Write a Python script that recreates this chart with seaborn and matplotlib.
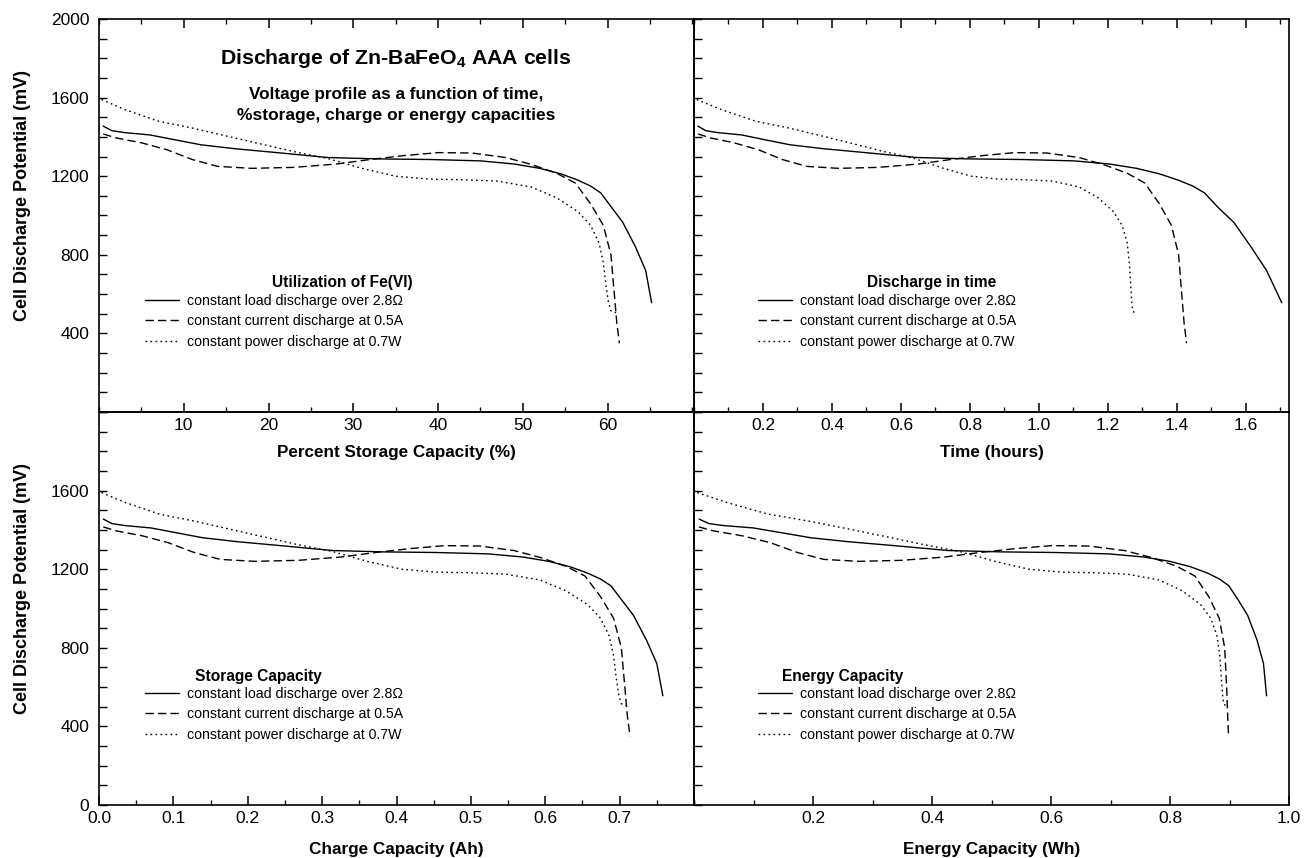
import matplotlib
matplotlib.use("Agg")
import matplotlib.pyplot as plt
import seaborn as sns
import pandas as pd
from matplotlib.ticker import MultipleLocator, FormatStrFormatter

# ---------------- data ----------------
series_names = ["constant load discharge over 2.8\u03a9",
                "constant current discharge at 0.5A",
                "constant power discharge at 0.7W"]

# cell potential (mV) along each discharge curve
load_mv = [1455, 1432, 1422, 1410, 1385, 1360, 1340, 1320, 1295, 1288, 1285, 1278,
           1262, 1240, 1212, 1180, 1150, 1115, 1040, 965, 840, 720, 556]
current_mv = [1415, 1395, 1370, 1335, 1285, 1250, 1240, 1245, 1262, 1285, 1305, 1320,
              1318, 1295, 1260, 1215, 1165, 1060, 950, 800, 600, 450, 350]
power_mv = [1590, 1540, 1480, 1445, 1405, 1365, 1325, 1290, 1240, 1200, 1185, 1182,
            1175, 1145, 1090, 1020, 950, 860, 760, 650, 560, 515, 505]

# percent storage capacity (%)
load_pct = [0.5, 1.5, 3, 6, 9, 12, 16, 21, 27, 33, 39, 45, 49, 52, 54.5, 56.5, 58,
            59.2, 60.5, 61.8, 63.3, 64.5, 65.2]
current_pct = [0.5, 2, 5, 8, 11, 14, 18, 23, 28, 32, 36, 40, 44, 48, 51, 54, 56.2, 58,
               59.5, 60.4, 60.8, 61.1, 61.4]
power_pct = [0.3, 3, 7, 11, 15, 19, 23, 27, 31, 35, 39, 43, 47, 51, 54, 56.5, 58, 59,
             59.5, 59.8, 60.1, 60.4, 61.0]

# time (hours)
load_hours = [0.011, 0.034, 0.068, 0.138, 0.207, 0.278, 0.375, 0.497, 0.647, 0.798,
              0.949, 1.102, 1.205, 1.283, 1.349, 1.404, 1.446, 1.48, 1.52, 1.565,
              1.615, 1.66, 1.704]
current_hours = [0.012, 0.047, 0.116, 0.186, 0.256, 0.326, 0.419, 0.535, 0.651, 0.744,
                 0.837, 0.930, 1.023, 1.116, 1.186, 1.256, 1.307, 1.349, 1.384, 1.405,
                 1.414, 1.421, 1.428]
power_hours = [0.008, 0.078, 0.178, 0.276, 0.370, 0.462, 0.552, 0.639, 0.723, 0.804,
               0.883, 0.962, 1.040, 1.117, 1.172, 1.216, 1.241, 1.256, 1.262, 1.266,
               1.269, 1.272, 1.277]

# charge capacity (Ah)
load_ah = [0.0058, 0.0174, 0.0349, 0.0698, 0.1047, 0.1395, 0.186, 0.2442, 0.314,
           0.3837, 0.4535, 0.5233, 0.5698, 0.6047, 0.6337, 0.657, 0.6744, 0.6884,
           0.7035, 0.7186, 0.736, 0.75, 0.7581]
current_ah = [0.0058, 0.0233, 0.0581, 0.093, 0.1279, 0.1628, 0.2093, 0.2674, 0.3256,
              0.3721, 0.4186, 0.4651, 0.5116, 0.5581, 0.593, 0.6279, 0.6535, 0.6744,
              0.6919, 0.7023, 0.707, 0.7105, 0.714]
power_ah = [0.0035, 0.0349, 0.0814, 0.1279, 0.1744, 0.2209, 0.2674, 0.314, 0.3605,
            0.407, 0.4535, 0.5, 0.5465, 0.593, 0.6279, 0.657, 0.6744, 0.686, 0.6919,
            0.6953, 0.6988, 0.7023, 0.7093]

# energy capacity (Wh)
load_wh = [0.0085, 0.0253, 0.0501, 0.0996, 0.1483, 0.1963, 0.259, 0.3363, 0.4276,
           0.5177, 0.6075, 0.6969, 0.756, 0.7996, 0.8351, 0.8631, 0.8833, 0.8991,
           0.9153, 0.9305, 0.9462, 0.9571, 0.9623]
current_wh = [0.0082, 0.0328, 0.0809, 0.1281, 0.1738, 0.218, 0.2759, 0.3481, 0.4211,
              0.4803, 0.5405, 0.6015, 0.6628, 0.7236, 0.7682, 0.8114, 0.8419, 0.8652,
              0.8828, 0.8919, 0.8952, 0.897, 0.8984]
power_wh = [0.0055, 0.0546, 0.1249, 0.1929, 0.2591, 0.3236, 0.3863, 0.447, 0.5058,
            0.5625, 0.618, 0.6731, 0.7278, 0.7818, 0.8207, 0.8515, 0.8686, 0.879,
            0.8837, 0.8862, 0.8883, 0.8901, 0.8937]

pct_ticks = [10, 20, 30, 40, 50, 60]
hour_ticks = [0.2, 0.4, 0.6, 0.8, 1.0, 1.2, 1.4, 1.6]
ah_ticks = [0.0, 0.1, 0.2, 0.3, 0.4, 0.5, 0.6, 0.7]
wh_ticks = [0.2, 0.4, 0.6, 0.8, 1.0]
mv_ticks_top = [400, 800, 1200, 1600, 2000]
mv_ticks_bottom = [0, 400, 800, 1200, 1600]

# ---------------- style ----------------
sns.set_theme(style="ticks")
plt.rcParams["font.family"] = ["Liberation Sans", "DejaVu Sans"]
plt.rcParams["mathtext.fontset"] = "custom"
plt.rcParams["mathtext.rm"] = "Liberation Sans"
plt.rcParams["mathtext.bf"] = "Liberation Sans:bold"
plt.rcParams["axes.linewidth"] = 1.2
for key in ("text.color", "axes.labelcolor", "xtick.color", "ytick.color",
            "axes.edgecolor"):
    plt.rcParams[key] = "black"

W, H = 1311, 858
fig = plt.figure(figsize=(W / 100, H / 100), dpi=100)

xl, xm, xr = 99, 694, 1289
yt, ym, yb = 19, 412, 805


def rect(x0, x1, y0, y1):
    return [x0 / W, 1 - y1 / H, (x1 - x0) / W, (y1 - y0) / H]


dash_map = {series_names[0]: "", series_names[1]: (6, 3), series_names[2]: (1.2, 2.4)}

panels = [
    dict(pos=rect(xl, xm, yt, ym), xs=(load_pct, current_pct, power_pct),
         xlim=(0, 70.2), xticks=pct_ticks, xminor=5, fmt="%d",
         xlabel="Percent Storage Capacity (%)", yticks=mv_ticks_top, left=True, top=True,
         title="Utilization of Fe(VI)"),
    dict(pos=rect(xm, xr, yt, ym), xs=(load_hours, current_hours, power_hours),
         xlim=(0, 1.725), xticks=hour_ticks, xminor=0.1, fmt="%.1f",
         xlabel="Time (hours)", yticks=mv_ticks_top, left=False, top=True,
         title="Discharge in time"),
    dict(pos=rect(xl, xm, ym, yb), xs=(load_ah, current_ah, power_ah),
         xlim=(0, 0.8), xticks=ah_ticks, xminor=0.05, fmt="%.1f",
         xlabel="Charge Capacity (Ah)", yticks=mv_ticks_bottom, left=True, top=False,
         title="Storage Capacity"),
    dict(pos=rect(xm, xr, ym, yb), xs=(load_wh, current_wh, power_wh),
         xlim=(0, 1.0), xticks=wh_ticks, xminor=0.1, fmt="%.1f",
         xlabel="Energy Capacity (Wh)", yticks=mv_ticks_bottom, left=False, top=False,
         title="Energy Capacity"),
]

mv_lists = (load_mv, current_mv, power_mv)

for i, p in enumerate(panels):
    ax = fig.add_axes(p["pos"])
    rows = []
    for name, xs, ys in zip(series_names, p["xs"], mv_lists):
        for k, (xv, yv) in enumerate(zip(xs, ys)):
            rows.append(dict(x=xv, mv=yv, series=name, k=k))
    df = pd.DataFrame(rows)
    sns.lineplot(data=df, x="x", y="mv", style="series", style_order=series_names,
                 dashes=dash_map, color="black", linewidth=1.0, sort=False,
                 estimator=None, legend=False, ax=ax)
    ax.set_xlim(*p["xlim"])
    ax.set_ylim(0, 2000)
    ax.set_xticks(p["xticks"])
    ax.xaxis.set_major_formatter(FormatStrFormatter(p["fmt"]))
    ax.xaxis.set_minor_locator(MultipleLocator(p["xminor"]))
    ax.set_yticks(p["yticks"])
    ax.yaxis.set_minor_locator(MultipleLocator(100))
    ax.tick_params(axis="x", which="major", direction="in", length=6.5, width=1.1,
                   top=p["top"], bottom=True, labelsize=12.5, pad=4.5)
    ax.tick_params(axis="x", which="minor", direction="in", length=3.5, width=1.0,
                   top=p["top"], bottom=True)
    ax.tick_params(axis="y", which="both", direction="in", length=5.5, width=1.0,
                   left=True, right=False, labelleft=p["left"], labelsize=12.5, pad=7)
    ax.set_xlabel(p["xlabel"], fontsize=12.3, fontweight="bold")
    ax.xaxis.set_label_coords(0.5, -0.102 if i < 2 else -0.112)
    ax.xaxis.label.set_va("center")
    if p["left"]:
        ax.set_ylabel("Cell Discharge Potential (mV)", fontsize=13, fontweight="bold")
        ax.yaxis.set_label_coords(-0.128, 0.55)
        ax.yaxis.label.set_va("center")
    else:
        ax.set_ylabel("")
    ax.patch.set_alpha(0)

    # panel title and legend
    x0 = 99 if i in (0, 2) else 694
    y0 = 0 if i < 2 else 393
    title_x = {0: 342, 1: 932, 2: 258, 3: 843}[i]
    fig.text(title_x / W, 1 - (y0 + 283) / H, p["title"], ha="center", va="center",
             fontsize=11.2, fontweight="bold")
    hx = (145 if i in (0, 2) else 758) - x0
    ax.legend(ax.get_lines()[:3], series_names, loc="upper left",
              bbox_to_anchor=(hx / 595, (393 - (294 - 19)) / 393),
              frameon=False, fontsize=10.2, handlelength=2.4, handletextpad=0.55,
              labelspacing=0.45, borderpad=0, borderaxespad=0)

# main title block
fig.text(396 / W, 1 - 58 / H, r"Discharge of Zn-BaFeO$_\mathbf{4}$ AAA cells",
         ha="center", va="center", fontsize=15.3, fontweight="bold")
fig.text(396 / W, 1 - 94 / H, "Voltage profile as a function of time,",
         ha="center", va="center", fontsize=12.3, fontweight="bold")
fig.text(396 / W, 1 - 115 / H, "%storage, charge or energy capacities",
         ha="center", va="center", fontsize=12.5, fontweight="bold")

fig.savefig("out.png", dpi=100)
